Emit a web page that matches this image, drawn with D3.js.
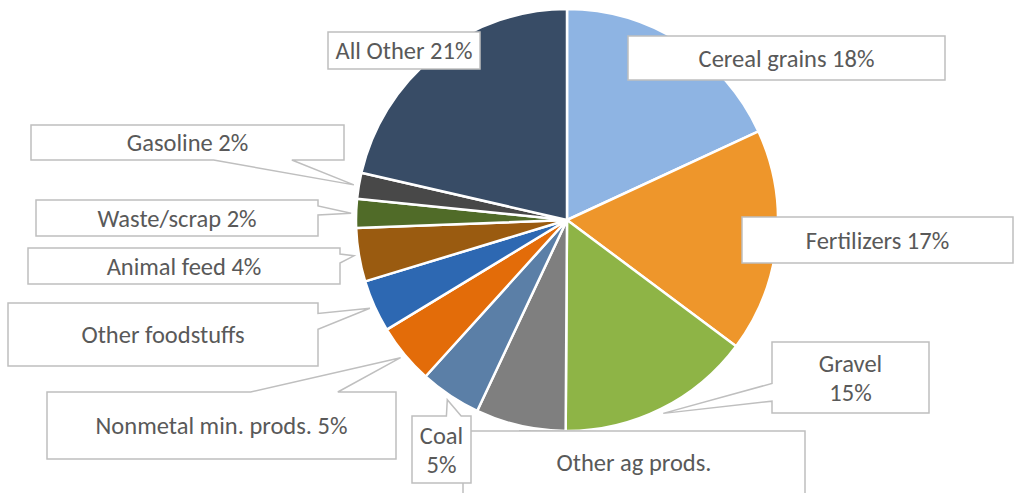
<!DOCTYPE html>
<html>
<head>
<meta charset="utf-8">
<script src="https://cdn.jsdelivr.net/npm/d3@7"></script>
<style>
  html, body { margin: 0; padding: 0; background: #ffffff; }
  svg { display: block; }
  text { font-family: Carlito, Calibri, Lato, "Open Sans", sans-serif; fill: #595959; }
</style>
</head>
<body>
<svg id="chart" width="1015" height="493"></svg>
<script>
// Freight tonnage share by commodity group
const categories = ["Cereal grains", "Fertilizers", "Gravel", "Other ag prods.", "Coal",
  "Nonmetal min. prods.", "Other foodstuffs", "Animal feed", "Waste/scrap", "Gasoline", "All Other"];
const values = [18.1, 17.1, 14.9, 6.9, 4.7, 4.6, 4.0, 4.1, 2.2, 2.0, 21.4];
const colors = ["#8EB4E3", "#EE962B", "#8EB446", "#7F7F7F", "#5B7FA7",
  "#E36C09", "#2D68B2", "#9A5B10", "#506B28", "#484848", "#384C66"];
// label style: "inline" = name and percent on one line, "wrap" = two lines, "name" = name only
const labelStyle = ["inline", "inline", "wrap", "name", "wrap", "inline", "name", "inline", "inline", "inline", "inline"];

// callout box placement (x, y, w, h)
const labelBoxes = [
  [628, 36, 317, 44],
  [742, 217, 271, 46],
  [772, 342, 157, 71],
  [463, 431, 342, 64],
  [412, 416, 59, 67],
  [47, 392, 349, 67],
  [8, 303, 310, 63],
  [28, 248, 312, 36],
  [36, 200, 282, 36],
  [31, 125, 313, 35],
  [328, 32, 152, 37]
];

const width = 1015, height = 493;
const cx = 567, cy = 220, radius = 211;
const fontSize = 24.5, lineGap = 29;

const svg = d3.select("#chart");
const total = d3.sum(values);
const data = categories.map((c, i) => ({ name: c, value: values[i], color: colors[i], style: labelStyle[i], box: labelBoxes[i] }));

const pie = d3.pie().value(d => d.value).sort(null);
const arcs = pie(data);
const arc = d3.arc().innerRadius(0).outerRadius(radius);
const tipArc = d3.arc().innerRadius(radius + 5).outerRadius(radius + 5);

const g = svg.append("g").attr("transform", `translate(${cx},${cy})`);
g.selectAll("path.slice")
  .data(arcs)
  .join("path")
  .attr("class", "slice")
  .attr("d", arc)
  .attr("fill", d => d.data.color)
  .attr("stroke", "#ffffff")
  .attr("stroke-width", 2.5)
  .attr("stroke-linejoin", "round");

// rectangular callout with a wedge pointing at the slice
function calloutPath(b, tip) {
  const [x, y, w, h] = b;
  const [tx, ty] = tip;
  if (tx >= x && tx <= x + w && ty >= y && ty <= y + h) {
    return `M${x},${y}H${x + w}V${y + h}H${x}Z`;
  }
  const dx = tx - (x + w / 2), dy = ty - (y + h / 2);
  const dq = dx * h / w;
  if (Math.abs(dy) > Math.abs(dq)) {
    const xa = dx > 0 ? [x + w * 7 / 12, x + w * 10 / 12] : [x + w * 2 / 12, x + w * 5 / 12];
    if (dy < 0) {
      return `M${x},${y}L${xa[0]},${y}L${tx},${ty}L${xa[1]},${y}L${x + w},${y}L${x + w},${y + h}L${x},${y + h}Z`;
    }
    return `M${x},${y}L${x + w},${y}L${x + w},${y + h}L${xa[1]},${y + h}L${tx},${ty}L${xa[0]},${y + h}L${x},${y + h}Z`;
  }
  const ya = dy > 0 ? [y + h * 7 / 12, y + h * 10 / 12] : [y + h * 2 / 12, y + h * 5 / 12];
  if (dx < 0) {
    return `M${x},${y}L${x + w},${y}L${x + w},${y + h}L${x},${y + h}L${x},${ya[1]}L${tx},${ty}L${x},${ya[0]}Z`;
  }
  return `M${x},${y}L${x + w},${y}L${x + w},${ya[0]}L${tx},${ty}L${x + w},${ya[1]}L${x + w},${y + h}L${x},${y + h}Z`;
}

const labels = svg.append("g").selectAll("g.label")
  .data(arcs)
  .join("g")
  .attr("class", "label");

labels.append("path")
  .attr("d", d => {
    const c = tipArc.centroid(d);
    return calloutPath(d.data.box, [cx + c[0], cy + c[1]]);
  })
  .attr("fill", "#ffffff")
  .attr("stroke", "#BFBFBF")
  .attr("stroke-width", 1.5)
  .attr("stroke-linejoin", "miter");

labels.each(function(d) {
  const pct = Math.round(d.data.value / total * 100) + "%";
  let lines;
  if (d.data.style === "wrap") lines = [d.data.name, pct];
  else if (d.data.style === "name") lines = [d.data.name];
  else lines = [d.data.name + " " + pct];
  const [x, y, w, h] = d.data.box;
  let mid = y + h / 2;
  if (d.data.name === "Other ag prods.") mid = y + 31;
  const first = mid - (lines.length - 1) * lineGap / 2;
  const t = d3.select(this).append("text")
    .attr("text-anchor", "middle")
    .style("font-size", fontSize + "px");
  lines.forEach((ln, k) => {
    t.append("tspan")
      .attr("x", x + w / 2)
      .attr("y", first + k * lineGap + fontSize * 0.35)
      .text(ln);
  });
});
</script>
</body>
</html>
